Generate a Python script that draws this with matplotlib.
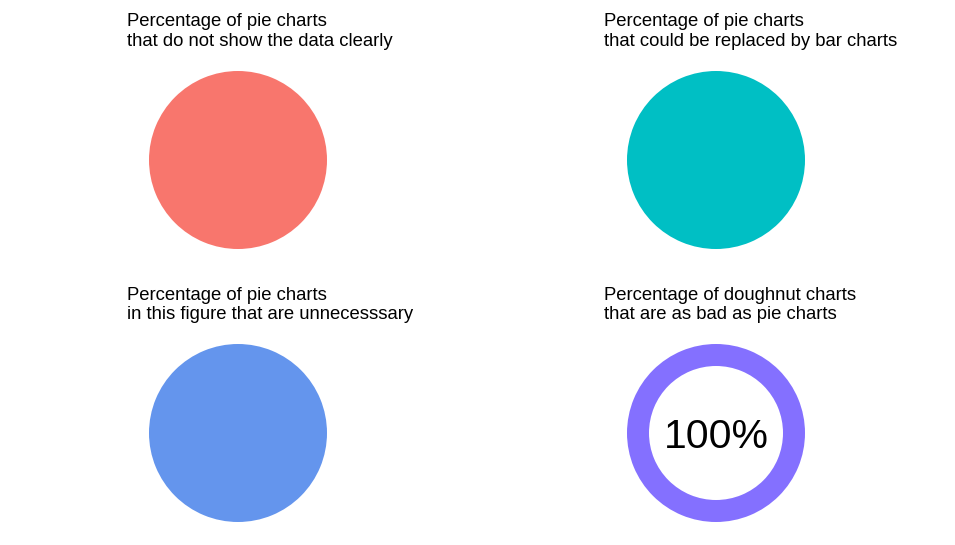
import matplotlib
matplotlib.use("Agg")
import matplotlib.pyplot as plt

plt.rcParams['font.family'] = ['Liberation Sans', 'DejaVu Sans']

# panel data
titles = [
    "Percentage of pie charts\nthat do not show the data clearly",
    "Percentage of pie charts\nthat could be replaced by bar charts",
    "Percentage of pie charts\nin this figure that are unnecesssary",
    "Percentage of doughnut charts\nthat are as bad as pie charts",
]
percentages = [100, 100, 100, 100]
colors = ["#F8766D", "#00BFC4", "#6495ED", "#8470FF"]
is_doughnut = [False, False, False, True]

W, H = 955, 545
fig = plt.figure(figsize=(W / 100, H / 100), dpi=100)

# pixel layout: circle centres and radius, title anchor
centres = [(238, 160), (716, 160), (238, 433), (716, 433)]
radius_px = 89
title_pos = [(127, 13.5), (604, 13.5), (127, 286.5), (604, 286.5)]

for i in range(4):
    cx, cy = centres[i]
    ax = fig.add_axes([(cx - radius_px) / W, (H - cy - radius_px) / H,
                       2 * radius_px / W, 2 * radius_px / H])
    pct = percentages[i]
    if is_doughnut[i]:
        ax.pie([pct, 100 - pct], colors=[colors[i], "white"], radius=1,
               startangle=90, counterclock=False,
               wedgeprops=dict(width=22 / 89, linewidth=0))
        ax.text(0, -0.04, f"{pct}%", ha="center", va="center", fontsize=29.5)
    else:
        ax.pie([pct, 100 - pct], colors=[colors[i], "white"], radius=1,
               startangle=90, counterclock=False,
               wedgeprops=dict(linewidth=0))
    ax.set_xlim(-1, 1)
    ax.set_ylim(-1, 1)
    ax.set_axis_off()

    tx, ty = title_pos[i]
    fig.text(tx / W, 1 - ty / H, titles[i], ha="left", va="top",
             fontsize=13.3, linespacing=1.23)

fig.savefig("out.png", dpi=100)
